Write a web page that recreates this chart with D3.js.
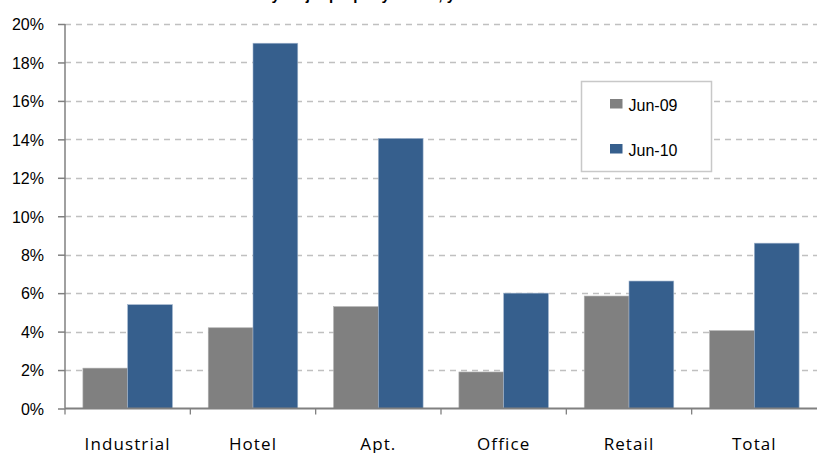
<!DOCTYPE html>
<html>
<head>
<meta charset="utf-8">
<script src="https://cdn.jsdelivr.net/npm/d3@7"></script>
<style>
  body { margin: 0; background: #fff; }
  svg { display: block; }
  .y-axis text { font-family: "Liberation Sans", Arial, sans-serif; font-size: 16px; fill: #000; }
  .x-label { font-family: "Open Sans", sans-serif; font-size: 17px; fill: #000; letter-spacing: 1.1px; }
  .legend text { font-family: "Liberation Sans", Arial, sans-serif; font-size: 16px; fill: #000; }
  .title { font-family: "Liberation Sans", Arial, sans-serif; font-size: 15px; font-weight: bold; }
</style>
</head>
<body>
<svg id="chart" width="817" height="453"></svg>
<script>
// data
const categories = ["Industrial", "Hotel", "Apt.", "Office", "Retail", "Total"];
const seriesNames = ["Jun-09", "Jun-10"];
const jun09 = [2.1, 4.2, 5.3, 1.9, 5.85, 4.05];
const jun10 = [5.4, 19.0, 14.05, 6.0, 6.63, 8.6];
const yTicks = [0, 2, 4, 6, 8, 10, 12, 14, 16, 18, 20];
const colors = { "Jun-09": "#808080", "Jun-10": "#365f8d" };

const svg = d3.select("#chart");
const width = +svg.attr("width");
const height = +svg.attr("height");
const margin = { top: 24, right: 0, bottom: 44.5, left: 65 };
const innerWidth = width - margin.left - margin.right;
const innerHeight = height - margin.top - margin.bottom;

const data = categories.map((c, i) => ({
  category: c,
  values: [
    { key: "Jun-09", value: jun09[i] },
    { key: "Jun-10", value: jun10[i] }
  ]
}));

const xScale = d3.scaleBand().domain(categories).range([0, innerWidth]).padding(0);
const xInner = d3.scaleBand().domain(seriesNames).range([0, xScale.bandwidth()])
  .paddingInner(0).paddingOuter(0.4);
const yScale = d3.scaleLinear().domain([0, 20]).range([innerHeight, 0]);

// title (cut off at the top in the original)
svg.append("text")
  .attr("class", "title")
  .attr("x", 415)
  .attr("y", 0)
  .attr("text-anchor", "middle")
  .text("Income returns by major property sector, year to June 2009 and June 2010");

const g = svg.append("g")
  .attr("transform", `translate(${margin.left},${margin.top})`);

// dashed grid
g.append("g")
  .selectAll("line")
  .data(yTicks.filter((d) => d > 0))
  .enter()
  .append("line")
  .attr("x1", 0)
  .attr("x2", innerWidth)
  .attr("y1", (d) => Math.round(yScale(d)) + 0.5)
  .attr("y2", (d) => Math.round(yScale(d)) + 0.5)
  .attr("stroke", "#c0c0c0")
  .attr("stroke-width", 1.3)
  .attr("stroke-dasharray", "6,5");

// bars
const groups = g.selectAll(".cat")
  .data(data)
  .enter()
  .append("g")
  .attr("class", "cat")
  .attr("transform", (d) => `translate(${xScale(d.category)},0)`);

groups.selectAll("rect")
  .data((d) => d.values)
  .enter()
  .append("rect")
  .attr("x", (d) => xInner(d.key))
  .attr("width", xInner.bandwidth())
  .attr("y", (d) => yScale(d.value))
  .attr("height", (d) => innerHeight - yScale(d.value))
  .attr("fill", (d) => colors[d.key])
  .attr("stroke", (d) => d.key === "Jun-10" ? "#9fb3cc" : "#b0b0b0")
  .attr("stroke-width", 0.6);

// y axis
const yAxis = d3.axisLeft(yScale)
  .tickValues(yTicks)
  .tickFormat((d) => d + "%")
  .tickSize(7)
  .tickPadding(14);

const yAxisG = g.append("g").attr("class", "y-axis").call(yAxis);
yAxisG.selectAll("line, path").attr("stroke", "#808080").attr("stroke-width", 1.5);
yAxisG.select(".domain").attr("d", `M0,${innerHeight}V0`);
yAxisG.selectAll("text").attr("dy", "0.36em");

// x axis: ticks at category boundaries
const boundaries = categories.map((c) => xScale(c));
const xAxisG = g.append("g").attr("transform", `translate(0,${innerHeight})`);
xAxisG.append("line")
  .attr("x1", 0).attr("x2", innerWidth)
  .attr("y1", 0).attr("y2", 0)
  .attr("stroke", "#808080").attr("stroke-width", 2);
xAxisG.selectAll(".tick")
  .data(boundaries)
  .enter()
  .append("line")
  .attr("x1", (d) => d).attr("x2", (d) => d)
  .attr("y1", 0).attr("y2", 6)
  .attr("stroke", "#808080").attr("stroke-width", 1.3);

xAxisG.selectAll(".x-label")
  .data(categories)
  .enter()
  .append("text")
  .attr("class", "x-label")
  .attr("x", (d) => xScale(d) + xScale.bandwidth() / 2)
  .attr("y", 41.5)
  .attr("text-anchor", "middle")
  .text((d) => d);

// legend
const legend = svg.append("g").attr("class", "legend");
legend.append("rect")
  .attr("x", 581.5).attr("y", 81.5)
  .attr("width", 130).attr("height", 90)
  .attr("fill", "#fff")
  .attr("stroke", "#c8c8c8")
  .attr("stroke-width", 1.5);

const legendItems = legend.selectAll(".item")
  .data(seriesNames)
  .enter()
  .append("g")
  .attr("transform", (d, i) => `translate(610,${99 + i * 45})`);

legendItems.append("rect")
  .attr("width", 12.5).attr("height", 9.5)
  .attr("fill", (d) => colors[d]);

legendItems.append("text")
  .attr("x", 18.5)
  .attr("y", 11.5)
  .text((d) => d);
</script>
</body>
</html>
